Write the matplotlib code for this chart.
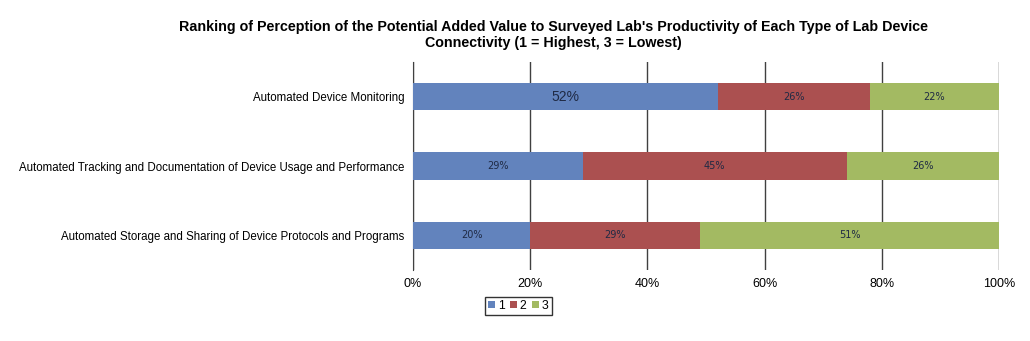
import matplotlib.pyplot as plt
import numpy as np

plt.rcParams['font.family'] = ['Liberation Sans', 'DejaVu Sans']

categories = ["Automated Device Monitoring",
              "Automated Tracking and Documentation of Device Usage and Performance",
              "Automated Storage and Sharing of Device Protocols and Programs"]
rank1 = [52, 29, 20]
rank2 = [26, 45, 29]
rank3 = [22, 26, 51]
series_names = ["1", "2", "3"]
colors = ["#6283BD", "#AB5050", "#A3BA62"]

fig = plt.figure(figsize=(10.30, 3.41), dpi=100)
ax = fig.add_axes([413 / 1030, 1 - 270 / 341, (999 - 413) / 1030, (270 - 62) / 341])

y = np.arange(len(categories))
left = np.zeros(len(categories))
for i, (vals, name, c) in enumerate(zip([rank1, rank2, rank3], series_names, colors)):
    bars = ax.barh(y, vals, left=left, height=0.39, color=c, label=name, zorder=3)
    for j, b in enumerate(bars):
        fs = 10 if (i == 0 and j == 0) else 7
        ax.text(left[j] + vals[j] / 2, y[j], f"{vals[j]}%", ha='center', va='center',
                fontsize=fs, color='#1F2A44', zorder=4, family=['DejaVu Sans'] if fs == 7 else None)
    left += np.array(vals)

ax.set_xlim(0, 100)
ax.set_ylim(len(categories) - 0.5, -0.5)
ax.set_yticks(y)
ax.set_yticklabels(categories, fontsize=8.3)
ax.set_xticks(range(0, 101, 20))
ax.set_xticklabels([f"{v}%" for v in range(0, 101, 20)], fontsize=9)
ax.tick_params(axis='both', length=0, pad=6)
ax.xaxis.grid(True, color='#404040', linewidth=1, zorder=0)
for s in ['top', 'right', 'bottom']:
    ax.spines[s].set_visible(False)
ax.spines['left'].set_color('#404040')

fig.suptitle("Ranking of Perception of the Potential Added Value to Surveyed Lab's Productivity of Each Type of Lab Device\nConnectivity (1 = Highest, 3 = Lowest)",
             fontsize=10.3, fontweight='bold', y=1 - 20 / 341, x=(173 + 934) / 2 / 1030, linespacing=1.15)

leg = ax.legend(loc='upper left', bbox_to_anchor=(485 / 1030, 1 - 297 / 341), bbox_transform=fig.transFigure,
                ncol=3, frameon=True, fontsize=8.8, handlelength=0.55, handleheight=0.55,
                handletextpad=0.25, columnspacing=0.45, borderpad=0.25, borderaxespad=0, fancybox=False)
leg.get_frame().set_edgecolor('black')
leg.get_frame().set_linewidth(1)

fig.savefig("out.png", dpi=100)
